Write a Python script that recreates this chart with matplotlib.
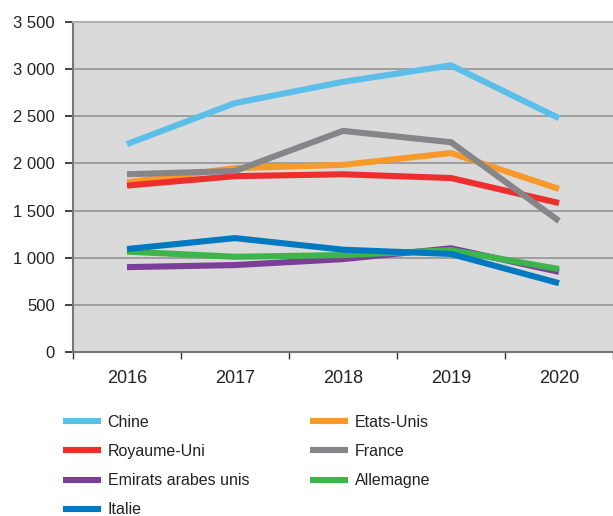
import matplotlib
matplotlib.use("Agg")
import matplotlib.pyplot as plt
from matplotlib.ticker import FuncFormatter, FixedLocator

plt.rcParams['font.family'] = ['Liberation Sans', 'DejaVu Sans']

years = ["2016", "2017", "2018", "2019", "2020"]
chine = [2205, 2640, 2865, 3040, 2480]
etats_unis = [1800, 1950, 1985, 2110, 1730]
royaume_uni = [1765, 1865, 1885, 1845, 1580]
france = [1885, 1920, 2345, 2225, 1390]
emirats = [900, 922, 985, 1100, 850]
allemagne = [1065, 1010, 1028, 1080, 880]
italie = [1092, 1208, 1085, 1040, 730]

series = [
    ("Chine", chine, "#5BBFEA"),
    ("Etats-Unis", etats_unis, "#F7992B"),
    ("Royaume-Uni", royaume_uni, "#EE2D2F"),
    ("France", france, "#868688"),
    ("Emirats arabes unis", emirats, "#7B3F98"),
    ("Allemagne", allemagne, "#3DB54A"),
    ("Italie", italie, "#0079C1"),
]

fig = plt.figure(figsize=(6.13, 5.16), dpi=100)
ax = fig.add_axes([73/613, 1-352/516, 1-73/613, 330/516])
ax.set_facecolor("#DADADA")

x = list(range(len(years)))
handles = {}
for name, vals, col in series:
    ln, = ax.plot(x, vals, color=col, lw=4.4, solid_capstyle="butt", solid_joinstyle="miter", zorder=3)
    handles[name] = ln

ax.set_xlim(-0.5, 4.48)
ax.set_ylim(0, 3500)
ax.yaxis.set_major_locator(FixedLocator(range(0, 3501, 500)))
ax.yaxis.set_major_formatter(FuncFormatter(lambda v, p: f"{int(v):,}".replace(",", " ")))
ax.set_xticks(x)
ax.set_xticklabels(years)
ax.set_xticks([i + 0.5 for i in range(-1, 5)], minor=True)
ax.tick_params(axis="x", which="major", length=0, pad=13, labelsize=13, colors="#222222")
ax.tick_params(axis="x", which="minor", length=5, width=1, color="#333333", direction="out")
ax.tick_params(axis="y", length=6, width=1.2, color="#222222", pad=7, labelsize=12, labelcolor="#222222")
ax.grid(axis="y", color="#999999", lw=1.3, zorder=1)
ax.set_axisbelow(True)
ax.spines["right"].set_visible(False)
ax.spines["top"].set_color("#B0B0B0")
ax.spines["top"].set_linewidth(1.5)
ax.spines["left"].set_color("#777777")
ax.spines["left"].set_linewidth(1.5)
ax.spines["bottom"].set_color("#777777")
ax.spines["bottom"].set_linewidth(1.5)

order = ["Chine", "Royaume-Uni", "Emirats arabes unis", "Italie", "Etats-Unis", "France", "Allemagne"]
leg = fig.legend([handles[n] for n in order], order, ncol=2, loc="upper left",
                 bbox_to_anchor=(63/613, 1-415/516), frameon=False, fontsize=11.5,
                 handlelength=2.38, handletextpad=0.42, columnspacing=3.8, labelspacing=0.88,
                 borderaxespad=0, borderpad=0)
for t in leg.get_texts():
    t.set_color("#222222")

fig.savefig("out.png", dpi=100)
